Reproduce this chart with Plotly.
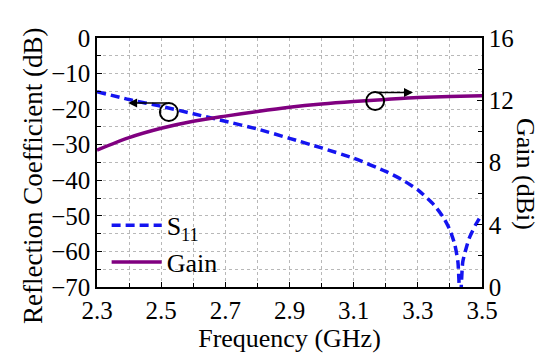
import plotly.graph_objects as go

freq_s11 = [2.3, 2.4, 2.5, 2.6, 2.7, 2.8, 2.9, 3.0, 3.1, 3.2, 3.25, 3.3, 3.35, 3.38, 3.4, 3.415, 3.425, 3.432, 3.44, 3.45, 3.46, 3.48, 3.5]
s11_db = [-15.1, -17.3, -19.2, -21.3, -23.4, -25.6, -28.2, -30.9, -33.8, -37.5, -39.8, -42.7, -46.9, -50.5, -54.0, -58.0, -63.0, -75.0, -63.0, -59.3, -56.3, -52.5, -49.5]

freq_gain = [2.3, 2.4, 2.5, 2.6, 2.7, 2.8, 2.9, 3.0, 3.1, 3.2, 3.3, 3.4, 3.5]
gain_dbi = [8.8, 9.6, 10.2, 10.65, 10.98, 11.28, 11.55, 11.76, 11.92, 12.05, 12.17, 12.24, 12.29]

x_ticks = [2.3, 2.5, 2.7, 2.9, 3.1, 3.3, 3.5]
y1_ticks = [0, -10, -20, -30, -40, -50, -60, -70]
y2_ticks = [0, 4, 8, 12, 16]

FONT = "Liberation Serif"
GRID = "#b8b8b8"

fig = go.Figure()
fig.add_trace(go.Scatter(x=freq_s11, y=s11_db, name="S<sub>11</sub>", mode="lines",
                         line=dict(color="#1414f0", width=3.5, dash="9px,5px", shape="spline", smoothing=0.6)))
fig.add_trace(go.Scatter(x=freq_gain, y=gain_dbi, name="Gain", mode="lines", yaxis="y2",
                         line=dict(color="#800080", width=3.5, shape="spline", smoothing=0.8)))

axis_common = dict(showline=True, linecolor="black", linewidth=1.5, ticks="inside",
                   ticklen=5, tickcolor="black", tickfont=dict(family=FONT, size=25, color="black"),
                   zeroline=False)

# page body adds an 8px margin, so the figure is 8px smaller and margins shifted
fig.update_layout(
    width=542, height=354,
    margin=dict(l=89, r=68, t=30, b=75),
    paper_bgcolor="white", plot_bgcolor="white",
    font=dict(family=FONT, color="black"),
    xaxis=dict(range=[2.3, 3.5], tickvals=x_ticks, ticktext=[f"{v:.1f}" for v in x_ticks],
               mirror=True, showgrid=True, gridcolor=GRID, griddash="dot", gridwidth=1,
               minor=dict(dtick=0.1, tick0=2.3, ticks="inside", ticklen=4, tickcolor="black",
                          showgrid=True, gridcolor=GRID, griddash="dot"),
               title=dict(text="Frequency (GHz)", font=dict(family=FONT, size=26), standoff=0),
               **axis_common),
    yaxis=dict(range=[-70, 0], tickvals=y1_ticks, ticktext=[("\u2212" + str(-v)) if v < 0 else str(v) for v in y1_ticks],
               showgrid=True, gridcolor=GRID, griddash="dot", gridwidth=1,
               minor=dict(dtick=5, ticks="inside", ticklen=4, tickcolor="black",
                          showgrid=True, gridcolor=GRID, griddash="dot"),
               **axis_common),
    yaxis2=dict(range=[0, 16], tickvals=y2_ticks, overlaying="y", side="right", showgrid=False,
                minor=dict(dtick=2, ticks="inside", ticklen=4, tickcolor="black"),
                **axis_common),
    legend=dict(x=0.025, y=0.005, xanchor="left", yanchor="bottom", bgcolor="rgba(0,0,0,0)",
                font=dict(family=FONT, size=26), tracegroupgap=0, itemwidth=50),
    showlegend=True,
)

# axis titles
fig.add_annotation(text="Reflection Coefficient (dB)", xref="paper", yref="paper", x=0, y=0.446,
                   xanchor="center", yanchor="middle", xshift=-64, textangle=-90,
                   showarrow=False, font=dict(family=FONT, size=27, color="black"))
fig.add_annotation(text="Gain (dBi)", xref="paper", yref="paper", x=1.0, y=0.454,
                   xanchor="center", yanchor="middle", xshift=43, textangle=90,
                   showarrow=False, font=dict(family=FONT, size=26, color="black"))

# circles
for cx, cy, yr in [(2.524, -20.8, "y"), (3.167, 11.95, "y2")]:
    fig.add_shape(type="circle", xref="x", yref=yr, xsizemode="pixel", ysizemode="pixel",
                  xanchor=cx, yanchor=cy, x0=-9, x1=9, y0=-9, y1=9,
                  line=dict(color="black", width=2))

# arrows
fig.add_annotation(x=2.397, y=-18.3, xref="x", yref="y", ax=41, ay=0, text="", showarrow=True,
                   arrowhead=2, arrowsize=1.2, arrowwidth=1.5, arrowcolor="black", standoff=0)
fig.add_annotation(x=3.285, y=12.5, xref="x", yref="y2", ax=-38, ay=0, text="", showarrow=True,
                   arrowhead=2, arrowsize=1.2, arrowwidth=1.5, arrowcolor="black", standoff=0)

fig.write_html("out.html")
